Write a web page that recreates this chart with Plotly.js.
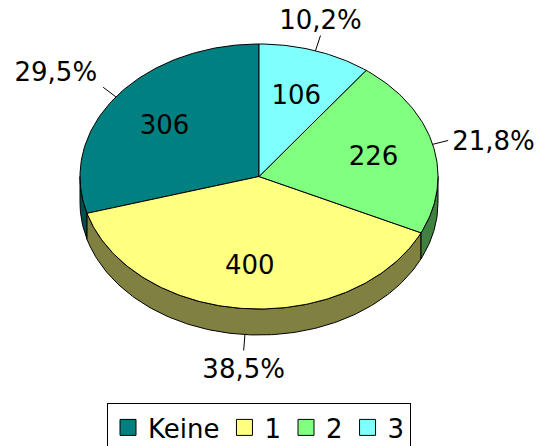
<!DOCTYPE html>
<html>
<head>
<meta charset="utf-8">
<script src="https://cdn.plot.ly/plotly-3.0.1.min.js"></script>
<style>
html, body { margin: 0; padding: 0; background: #fff; }
#chart { width: 540px; height: 446px; }
</style>
</head>
<body>
<div id="chart"></div>
<script>
// ---- data ----
const categories = ['Keine', '1', '2', '3'];
const values = [306, 400, 226, 106];
const topColors = ['#008080', '#FFFF80', '#80FF80', '#80FFFF'];
const sideColors = ['#004D4D', '#808040', '#408040', '#408080'];

// ---- geometry (pixel-like data space) ----
const cx = 259, cy = 176.5, rx = 179, ry = 132.5, depth = 26;
const startDeg = 90;
const total = values.reduce((a, b) => a + b, 0);
const rad = d => d * Math.PI / 180;
function pt(deg, dz, f) {
  f = (f === undefined) ? 1 : f;
  return [cx + rx * f * Math.cos(rad(deg)), cy - ry * f * Math.sin(rad(deg)) + dz];
}
function arc(a, b, dz) {
  const pts = [];
  const n = Math.max(2, Math.ceil(Math.abs(b - a)));
  for (let i = 0; i <= n; i++) pts.push(pt(a + (b - a) * i / n, dz));
  return pts;
}

// slice angles (counter-clockwise from 12 o'clock)
const slices = [];
let acc = startDeg;
values.forEach((v, i) => {
  const span = v / total * 360;
  slices.push({ a: acc, b: acc + span, mid: acc + span / 2, i: i });
  acc += span;
});

const traces = [];

// side faces (front half: 180..360 deg, and its repeat)
slices.forEach(s => {
  [[180, 360], [540, 720]].forEach(([lo, hi]) => {
    const a = Math.max(s.a, lo), b = Math.min(s.b, hi);
    if (b > a) {
      const top = arc(a, b, 0);
      const bot = arc(b, a, depth);
      const poly = top.concat(bot);
      poly.push(poly[0]);
      traces.push({
        type: 'scatter', mode: 'lines', fill: 'toself',
        x: poly.map(p => p[0]), y: poly.map(p => p[1]),
        fillcolor: sideColors[s.i], line: { color: '#000', width: 1 },
        showlegend: false, hoverinfo: 'skip'
      });
    }
  });
});

// top faces
slices.forEach(s => {
  const poly = [[cx, cy]].concat(arc(s.a, s.b, 0));
  poly.push([cx, cy]);
  traces.push({
    type: 'scatter', mode: 'lines', fill: 'toself',
    x: poly.map(p => p[0]), y: poly.map(p => p[1]),
    fillcolor: topColors[s.i], line: { color: '#000', width: 1 },
    showlegend: false, hoverinfo: 'skip'
  });
});

// value labels inside slices
const midBias = 3.5;
const inner = slices.map(s => pt(s.mid, 0, 0.66));
traces.push({
  type: 'scatter', mode: 'text',
  x: inner.map(p => p[0]), y: inner.map(p => p[1] + midBias),
  text: values.map(String), textposition: 'middle center',
  textfont: { family: 'DejaVu Sans', size: 26, color: '#000' },
  showlegend: false, hoverinfo: 'skip'
});

// percentage labels with leader lines
const lx = [], ly = [], px = [], py = [], ptxt = [], ppos = [];
slices.forEach(s => {
  let m = s.mid % 360;
  const c = Math.cos(rad(m)), sn = Math.sin(rad(m));
  const dz = (m > 180 && m < 360) ? depth : 0;
  const p0 = pt(m, dz);
  const p1 = [p0[0] + 16 * c, p0[1] - 16 * sn];
  lx.push(p0[0], p1[0], null); ly.push(p0[1], p1[1], null);
  ptxt.push((values[s.i] / total * 100).toFixed(1).replace('.', ',') + '%');
  let v, h;
  if (Math.abs(sn) > 0.7) { v = sn > 0 ? 'top' : 'bottom'; h = 'center'; }
  else if (Math.abs(sn) > 0.4) { v = sn > 0 ? 'top' : 'bottom'; h = c > 0 ? 'right' : 'left'; }
  else { v = 'middle'; h = c > 0 ? 'right' : 'left'; }
  const dy = v === 'top' ? 0 : (v === 'middle' ? midBias : 8);
  const dx = h === 'right' ? 4 : (h === 'left' ? -6 : 0);
  px.push(p1[0] + dx); py.push(p1[1] + dy);
  ppos.push(v + ' ' + h);
});
traces.push({
  type: 'scatter', mode: 'lines', x: lx, y: ly,
  line: { color: '#000', width: 1 }, showlegend: false, hoverinfo: 'skip'
});
traces.push({
  type: 'scatter', mode: 'text', x: px, y: py, text: ptxt, textposition: ppos,
  textfont: { family: 'DejaVu Sans', size: 26, color: '#000' },
  showlegend: false, hoverinfo: 'skip'
});

// legend entries
categories.forEach((c, i) => {
  traces.push({
    type: 'scatter', mode: 'markers', x: [null], y: [null], name: c,
    marker: { symbol: 'square', size: 16, color: topColors[i], line: { color: '#000', width: 1 } },
    hoverinfo: 'skip'
  });
});

const layout = {
  width: 540, height: 446,
  margin: { l: 0, r: 0, t: 0, b: 0, pad: 0, autoexpand: false },
  paper_bgcolor: '#fff', plot_bgcolor: '#fff',
  font: { family: 'DejaVu Sans', size: 26, color: '#000' },
  xaxis: { range: [0, 540], visible: false, fixedrange: true },
  yaxis: { range: [446, 0], visible: false, fixedrange: true },
  showlegend: true,
  legend: {
    orientation: 'h', x: 107 / 540, xanchor: 'left', y: 1 - 403 / 446, yanchor: 'top',
    bordercolor: '#000', borderwidth: 1, bgcolor: '#fff',
    font: { family: 'DejaVu Sans', size: 26, color: '#000' },
    itemclick: false, itemdoubleclick: false
  },
  hovermode: false
};

Plotly.newPlot('chart', traces, layout, { displayModeBar: false, staticPlot: true });
</script>
</body>
</html>
